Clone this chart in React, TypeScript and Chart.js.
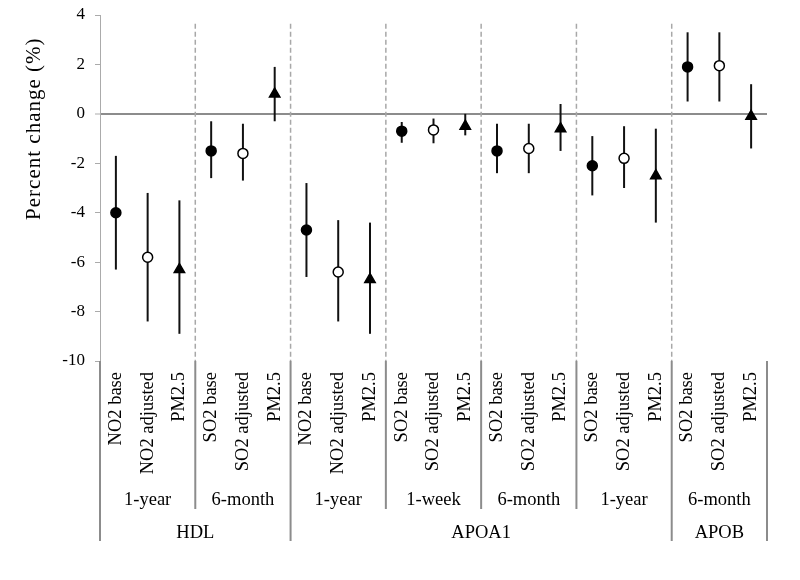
import React, { useEffect, useRef } from "react";
import { Chart, registerables } from "chart.js";

Chart.register(...registerables);

// ---------- data ----------
const exposures = [
  "NO2 base", "NO2 adjusted", "PM2.5",
  "SO2 base", "SO2 adjusted", "PM2.5",
  "NO2 base", "NO2 adjusted", "PM2.5",
  "SO2 base", "SO2 adjusted", "PM2.5",
  "SO2 base", "SO2 adjusted", "PM2.5",
  "SO2 base", "SO2 adjusted", "PM2.5",
  "SO2 base", "SO2 adjusted", "PM2.5",
];
const periods = ["1-year", "6-month", "1-year", "1-week", "6-month", "1-year", "6-month"];
const biomarkers = ["HDL", "APOA1", "APOB"];
const biomarkerPeriodCounts = [2, 4, 1];

const estimate = [
  -4.0, -5.8, -6.3,
  -1.5, -1.6, 0.8,
  -4.7, -6.4, -6.7,
  -0.7, -0.65, -0.5,
  -1.5, -1.4, -0.6,
  -2.1, -1.8, -2.5,
  1.9, 1.95, -0.1,
];
const lower = [
  -6.3, -8.4, -8.9,
  -2.6, -2.7, -0.3,
  -6.6, -8.4, -8.9,
  -1.17, -1.19, -0.87,
  -2.4, -2.4, -1.5,
  -3.3, -3.0, -4.4,
  0.5, 0.5, -1.4,
];
const upper = [
  -1.7, -3.2, -3.5,
  -0.3, -0.4, 1.9,
  -2.8, -4.3, -4.4,
  -0.33, -0.19, 0.0,
  -0.4, -0.4, 0.4,
  -0.9, -0.5, -0.6,
  3.3, 3.3, 1.2,
];

const yMin = -10;
const yMax = 4;
const yStep = 2;
const yTitle = "Percent change (%)";

// marker type per position in each group: base, adjusted, PM2.5
const markerStyles = ["circle", "circle", "triangle"];
const markerFills = ["#000000", "#ffffff", "#000000"];
const markerRadii = [5, 5, 6];

const FONT = "'Liberation Serif', 'Times New Roman', serif";

const annotatePlugin = {
  id: "annotate",
  beforeDatasetsDraw(chart: any) {
    const { ctx, chartArea, scales } = chart;
    const x = scales.x;
    const y = scales.y;
    const half = (x.getPixelForValue(1) - x.getPixelForValue(0)) / 2;
    ctx.save();
    // dashed separators between period groups
    ctx.strokeStyle = "#a8a8a8";
    ctx.lineWidth = 1.5;
    ctx.setLineDash([5, 3]);
    for (let g = 1; g < periods.length; g++) {
      const px = x.getPixelForValue(g * 3) - half;
      ctx.beginPath();
      ctx.moveTo(px, y.getPixelForValue(3.65));
      ctx.lineTo(px, chartArea.bottom);
      ctx.stroke();
    }
    ctx.setLineDash([]);
    // error bars
    ctx.strokeStyle = "#111111";
    ctx.lineWidth = 2;
    for (let i = 0; i < estimate.length; i++) {
      const px = x.getPixelForValue(i);
      ctx.beginPath();
      ctx.moveTo(px, y.getPixelForValue(lower[i]));
      ctx.lineTo(px, y.getPixelForValue(upper[i]));
      ctx.stroke();
    }
    ctx.restore();
  },
  afterDraw(chart: any) {
    const { ctx, chartArea, scales } = chart;
    const x = scales.x;
    const y = scales.y;
    const half = (x.getPixelForValue(1) - x.getPixelForValue(0)) / 2;
    const bottom = chartArea.bottom;
    ctx.save();
    // separators in the label area
    ctx.strokeStyle = "#8c8c8c";
    ctx.lineWidth = 2;
    const majorBounds = new Set<number>();
    let acc = 0;
    majorBounds.add(0);
    biomarkerPeriodCounts.forEach((c) => {
      acc += c;
      majorBounds.add(acc);
    });
    for (let g = 0; g <= periods.length; g++) {
      const px = x.getPixelForValue(g * 3) - half;
      const len = majorBounds.has(g) ? 180 : 148;
      ctx.beginPath();
      ctx.moveTo(px, bottom);
      ctx.lineTo(px, bottom + len);
      ctx.stroke();
    }
    // period labels
    ctx.fillStyle = "#000";
    ctx.font = `18.5px ${FONT}`;
    ctx.textAlign = "center";
    ctx.textBaseline = "alphabetic";
    periods.forEach((p, g) => {
      ctx.fillText(p, x.getPixelForValue(g * 3 + 1), bottom + 144);
    });
    // biomarker labels
    let start = 0;
    biomarkers.forEach((b, k) => {
      const end = start + biomarkerPeriodCounts[k] * 3 - 1;
      const cx = (x.getPixelForValue(start) + x.getPixelForValue(end)) / 2;
      ctx.fillText(b, cx, bottom + 177);
      start = end + 1;
    });
    // y-axis title
    ctx.font = `21px ${FONT}`;
    (ctx as any).letterSpacing = "1px";
    ctx.translate(40, y.getPixelForValue(-0.6));
    ctx.rotate(-Math.PI / 2);
    ctx.textAlign = "center";
    ctx.fillText(yTitle, 0, 0);
    ctx.restore();
  },
};

export default function App() {
  const canvasRef = useRef<HTMLCanvasElement | null>(null);

  useEffect(() => {
    const canvas = canvasRef.current;
    if (!canvas) return;
    const chart = new Chart(canvas, {
      type: "line",
      data: {
        labels: exposures,
        datasets: [
          {
            data: estimate,
            showLine: false,
            pointStyle: (ctx: any) => markerStyles[ctx.dataIndex % 3] as any,
            pointRadius: (ctx: any) => markerRadii[ctx.dataIndex % 3],
            pointBackgroundColor: (ctx: any) => markerFills[ctx.dataIndex % 3],
            pointBorderColor: "#000000",
            pointBorderWidth: 1.5,
          },
        ],
      },
      options: {
        responsive: false,
        animation: false,
        devicePixelRatio: 1,
        layout: { padding: { top: 15, right: 33, bottom: 0, left: 0 } },
        plugins: {
          legend: { display: false },
          tooltip: { enabled: false },
        },
        scales: {
          x: {
            type: "category",
            offset: true,
            border: { display: false },
            grid: { display: false, drawTicks: false },
            ticks: {
              autoSkip: false,
              minRotation: 90,
              maxRotation: 90,
              padding: 11,
              color: "#000",
              font: { family: FONT, size: 18.5 },
            },
            afterFit: (scale: any) => {
              scale.height = 219;
            },
          },
          y: {
            min: yMin,
            max: yMax,
            border: { display: true, color: "#ababab", width: 1 },
            grid: {
              drawOnChartArea: true,
              color: (ctx: any) => (ctx.tick && ctx.tick.value === 0 ? "#8c8c8c" : "rgba(0,0,0,0)"),
              lineWidth: (ctx: any) => (ctx.tick && ctx.tick.value === 0 ? 2 : 1),
              tickColor: "#ababab",
              tickWidth: 1,
              tickLength: 5,
            },
            ticks: {
              stepSize: yStep,
              padding: 10,
              color: "#000",
              font: { family: FONT, size: 17 },
            },
            afterFit: (scale: any) => {
              scale.width = 100;
              scale.paddingTop = 0;
              scale.paddingBottom = 0;
            },
          },
        },
      },
      plugins: [annotatePlugin],
    });
    return () => chart.destroy();
  }, []);

  return (
    <div style={{ position: "fixed", left: 0, top: 0, width: 800, height: 580, background: "#fff" }}>
      <canvas ref={canvasRef} width={800} height={580} />
    </div>
  );
}
